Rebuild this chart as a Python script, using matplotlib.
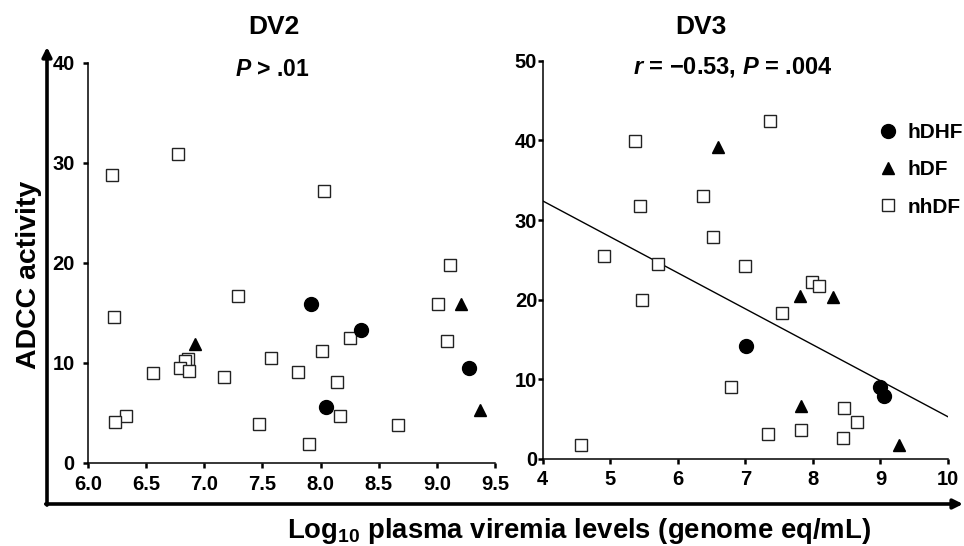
import matplotlib
matplotlib.use("Agg")
import matplotlib.pyplot as plt
from matplotlib.patches import FancyArrowPatch
from matplotlib.lines import Line2D

plt.rcParams['font.family'] = ['Liberation Sans', 'DejaVu Sans']
plt.rcParams['font.weight'] = 'bold'
plt.rcParams['mathtext.fontset'] = 'custom'
plt.rcParams['mathtext.rm'] = 'Liberation Sans:bold'
plt.rcParams['mathtext.it'] = 'Liberation Sans:italic:bold'
plt.rcParams['mathtext.bf'] = 'Liberation Sans:bold'

# ---------------- DV2 data ----------------
dv2_nhdf_x = [6.21, 6.77, 8.03, 9.11, 7.29, 9.01, 6.22, 8.25, 9.09, 8.01, 6.86, 6.83,
              7.57, 6.79, 6.87, 6.56, 7.81, 7.17, 8.14, 6.33, 6.23, 7.47, 8.17, 8.67, 7.90]
dv2_nhdf_y = [28.75, 30.9, 27.2, 19.8, 16.7, 15.9, 14.6, 12.5, 12.2, 11.2, 10.4, 10.2,
              10.5, 9.45, 9.2, 8.95, 9.1, 8.55, 8.05, 4.7, 4.06, 3.93, 4.7, 3.8, 1.93]
dv2_hdhf_x = [7.92, 8.35, 8.05, 9.28]
dv2_hdhf_y = [15.9, 13.3, 5.6, 9.45]
dv2_hdf_x = [6.92, 9.21, 9.37]
dv2_hdf_y = [11.9, 15.9, 5.3]

# ---------------- DV3 data ----------------
dv3_nhdf_x = [5.36, 7.36, 6.38, 5.44, 6.52, 4.91, 5.70, 6.99, 7.99, 8.09, 5.47, 7.54,
              6.79, 8.46, 8.66, 7.34, 7.82, 8.44, 4.57]
dv3_nhdf_y = [39.9, 42.4, 33.0, 31.8, 27.9, 25.5, 24.5, 24.2, 22.2, 21.7, 19.9, 18.3,
              9.07, 6.44, 4.6, 3.1, 3.6, 2.6, 1.8]
dv3_hdhf_x = [7.01, 9.00, 9.05]
dv3_hdhf_y = [14.2, 9.0, 7.9]
dv3_hdf_x = [6.60, 7.81, 8.30, 7.83, 9.28]
dv3_hdf_y = [39.2, 20.5, 20.3, 6.7, 1.7]
dv3_fit_x = [4.0, 10.0]
dv3_fit_y = [32.4, 5.3]

dv2_xticks = [6.0, 6.5, 7.0, 7.5, 8.0, 8.5, 9.0, 9.5]
dv2_yticks = [0, 10, 20, 30, 40]
dv3_xticks = [4, 5, 6, 7, 8, 9, 10]
dv3_yticks = [0, 10, 20, 30, 40, 50]

W, H = 964, 546
fig = plt.figure(figsize=(W / 100, H / 100), dpi=100)

def px_rect(l, t, r, b):
    return [l / W, 1 - b / H, (r - l) / W, (b - t) / H]

ax1 = fig.add_axes(px_rect(88, 62.7, 495, 463))
ax2 = fig.add_axes(px_rect(542.7, 60.7, 948, 459))

def style(ax, ypad, xpad):
    for s in ('top', 'right'):
        ax.spines[s].set_visible(False)
    for s in ('left', 'bottom'):
        ax.spines[s].set_linewidth(1.1)
    ax.tick_params(axis='both', direction='out', length=3.5, width=1.8,
                   labelsize=14.5)
    ax.tick_params(axis='y', pad=ypad)
    ax.tick_params(axis='x', pad=xpad)
    for lab in ax.get_xticklabels() + ax.get_yticklabels():
        lab.set_fontweight('bold')

sq = dict(marker='s', ms=8.5, mfc='white', mec='#222222', mew=1.0, ls='none')
ci = dict(marker='o', ms=10, mfc='black', mec='black', ls='none')
tr = dict(marker='^', ms=8.5, mfc='black', mec='black', ls='none')

ax1.plot(dv2_nhdf_x, dv2_nhdf_y, **sq, clip_on=False)
ax1.plot(dv2_hdhf_x, dv2_hdhf_y, **ci, clip_on=False)
ax1.plot(dv2_hdf_x, dv2_hdf_y, **tr, clip_on=False)
ax1.set_xlim(6.0, 9.5)
ax1.set_ylim(0, 40)
ax1.set_xticks(dv2_xticks)
ax1.set_xticklabels([f"{v:.1f}" for v in dv2_xticks])
ax1.set_yticks(dv2_yticks)
ax1.set_yticklabels([str(v) for v in dv2_yticks])
style(ax1, 6, 5.5)

ax2.plot(dv3_fit_x, dv3_fit_y, color='black', lw=1.0)
ax2.plot(dv3_nhdf_x, dv3_nhdf_y, **sq, clip_on=False)
ax2.plot(dv3_hdhf_x, dv3_hdhf_y, **ci, clip_on=False)
ax2.plot(dv3_hdf_x, dv3_hdf_y, **tr, clip_on=False)
ax2.set_xlim(4, 10)
ax2.set_ylim(0, 50)
ax2.set_xticks(dv3_xticks)
ax2.set_xticklabels([str(v) for v in dv3_xticks])
ax2.set_yticks(dv3_yticks)
ax2.set_yticklabels([str(v) for v in dv3_yticks])
style(ax2, 0.5, 4.5)

handles = [Line2D([], [], **ci), Line2D([], [], **tr), Line2D([], [], **sq)]
leg = ax2.legend(handles, ['hDHF', 'hDF', 'nhDF'], loc='upper left',
                 bbox_to_anchor=(878 / W, 1 - 123 / H), bbox_transform=fig.transFigure,
                 frameon=False, borderpad=0, borderaxespad=0, handlelength=1.0,
                 handletextpad=0.4, labelspacing=0.88, prop=dict(size=15, weight='bold'))

# titles
fig.text(274 / W, 1 - 27 / H, 'DV2', ha='center', va='center', fontsize=19, fontweight='bold')
fig.text(701 / W, 1 - 27 / H, 'DV3', ha='center', va='center', fontsize=19, fontweight='bold')
fig.text(272 / W, 1 - 70 / H, r'$P$ > .01', ha='center', va='center', fontsize=16.5, fontweight='bold')
fig.text(733 / W, 1 - 67 / H, '$r$ = \u22120.53, $P$ = .004', ha='center', va='center',
         fontsize=17, fontweight='bold')

# axis labels
fig.text(29 / W, 1 - 275 / H, 'ADCC activity', ha='center', va='center', rotation=90,
         fontsize=20.5, fontweight='bold')
fig.text(579 / W, 1 - 531 / H, r'Log$_{10}$ plasma viremia levels (genome eq/mL)',
         ha='center', va='center', fontsize=19.8, fontweight='bold')

# big L-shaped arrows
cx, cy = 47 / W, 1 - 504 / H
fig.add_artist(FancyArrowPatch((cx, cy - 0.002), (cx, 1 - 47 / H), transform=fig.transFigure,
                               arrowstyle='-|>', mutation_scale=14, lw=2.6, color='black',
                               shrinkA=0, shrinkB=0))
fig.add_artist(FancyArrowPatch((cx - 0.0013, cy), (963 / W, cy), transform=fig.transFigure,
                               arrowstyle='-|>', mutation_scale=14, lw=2.6, color='black',
                               shrinkA=0, shrinkB=0))

fig.savefig('out.png', dpi=100)
